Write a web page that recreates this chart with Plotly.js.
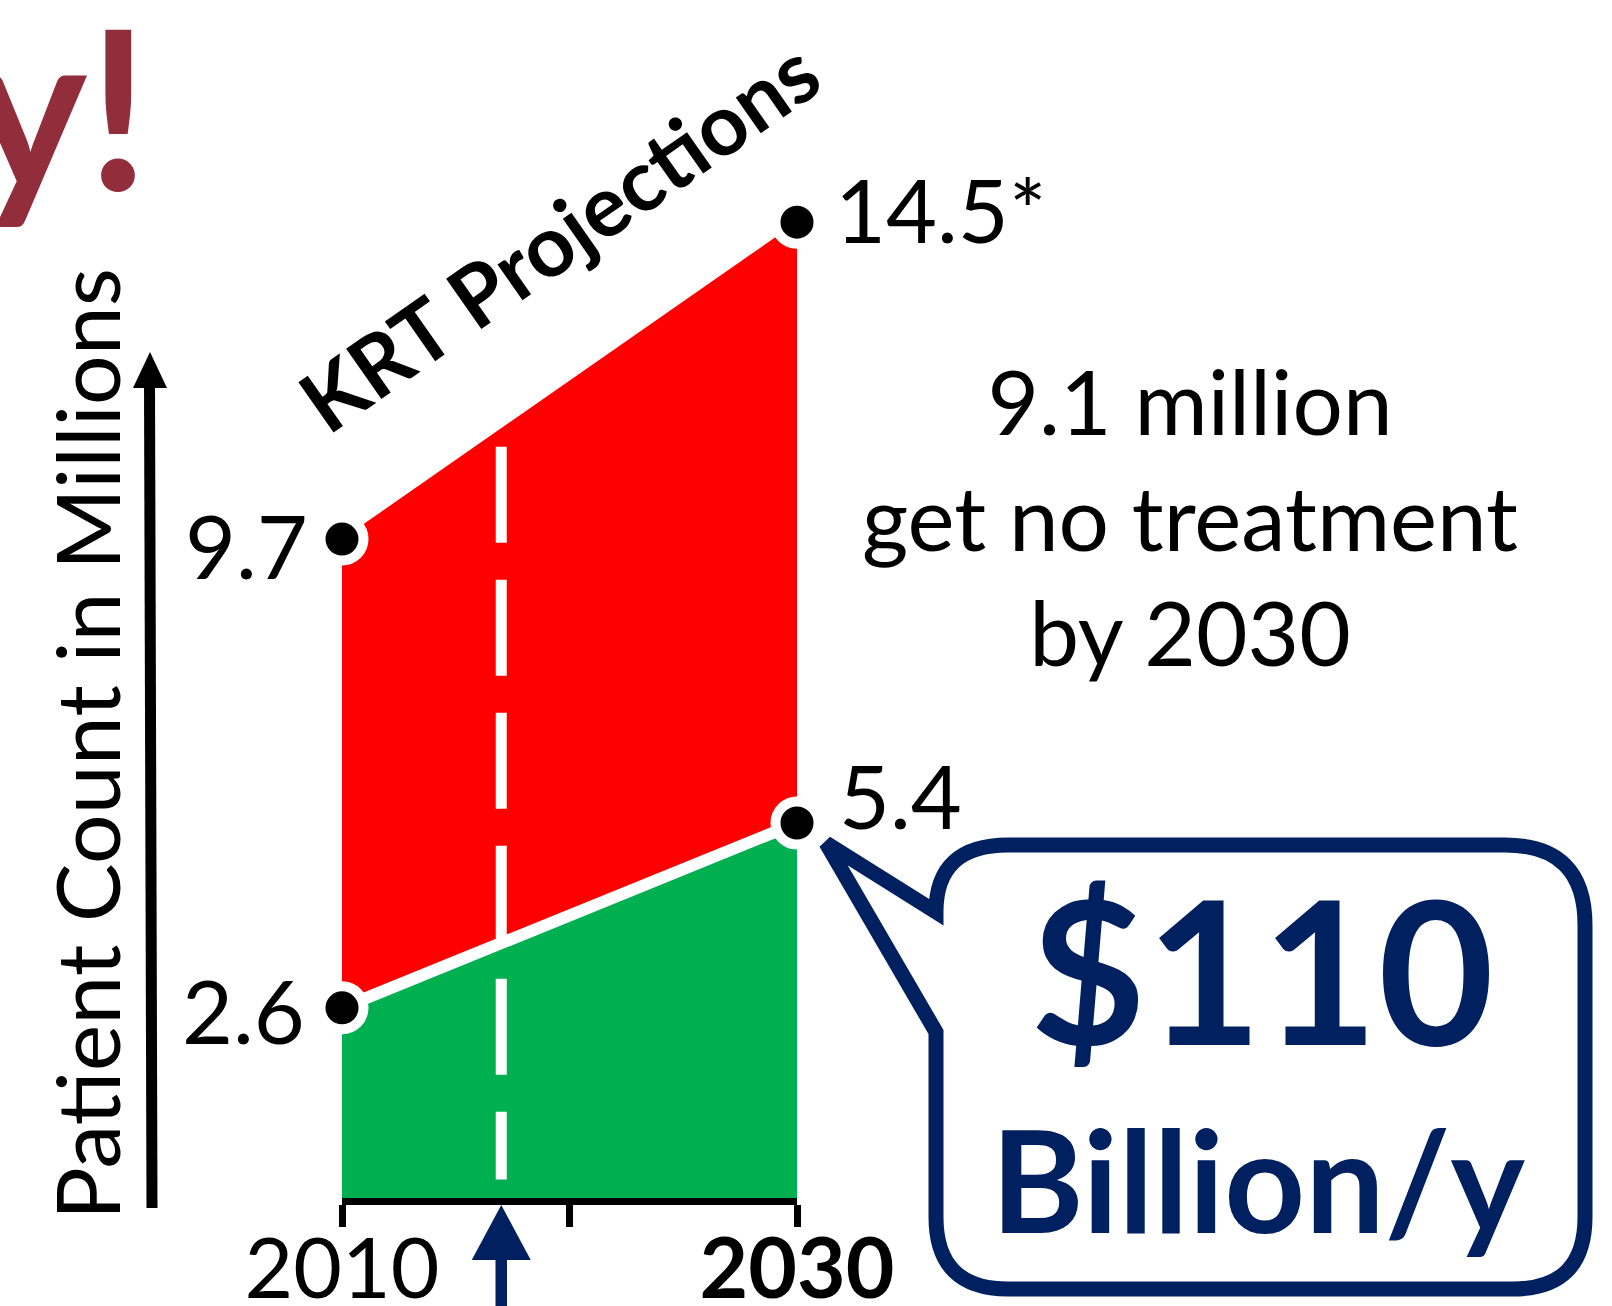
<!DOCTYPE html>
<html>
<head>
<meta charset="utf-8">
<script src="https://cdn.plot.ly/plotly-3.0.1.min.js"></script>
<style>
  html, body { margin: 0; padding: 0; background: #ffffff; }
  #chart { width: 1612px; height: 1306px; }
</style>
</head>
<body>
<div id="chart"></div>
<script>
// ---- data ----
const years = [2010, 2030];
const totalNeed = [9.7, 14.5];          // patients needing KRT (millions)
const treated = [2.6, 5.4];             // patients receiving KRT (millions)
const totalLabels = ['9.7', '14.5*'];
const treatedLabels = ['2.6', '5.4'];
const tickYears = [2010, 2020, 2030];
const tickLabels = ['2010', '', '<b>2030</b>'];
const markYear = 2017;                  // dashed marker year
const markSpan = [11.1, 0];             // dashed marker extent (millions)
const untreatedText = ['9.1 million', 'get no treatment', 'by 2030'];
const costText = ['$110', 'Billion/y'];

// ---- layout geometry ----
const FW = 1612, FH = 1306;
const L = 342, R = 797, T = 100, B = 1198;
const W = R - L, H = B - T;
const yRange = [-0.28, 16.35];
const px = x => (x - L) / W;
const py = y => (B - y) / H;
const P = (x, y) => px(x).toFixed(5) + ',' + py(y).toFixed(5);
const NAVY = '#002060';
const FONT = 'Lato, "Open Sans", sans-serif';
const yrPerPx = (years[1] - years[0]) / W;

const baseY = yRange[0];

const traces = [
  { // green: treated
    x: [years[0], years[1], years[1], years[0]],
    y: [treated[0], treated[1], baseY, baseY],
    fill: 'toself', fillcolor: '#00B050', mode: 'lines',
    line: { width: 0, color: '#00B050' }, hoverinfo: 'skip', showlegend: false
  },
  { // red: untreated
    x: [years[0], years[1], years[1], years[0]],
    y: [totalNeed[0], totalNeed[1], treated[1], treated[0]],
    fill: 'toself', fillcolor: '#FF0000', mode: 'lines',
    line: { width: 0, color: '#FF0000' }, hoverinfo: 'skip', showlegend: false
  },
  { // white separator
    x: years, y: treated, mode: 'lines',
    line: { width: 12, color: '#ffffff' }, hoverinfo: 'skip', showlegend: false
  },
  { // dashed marker
    x: [markYear, markYear], y: markSpan, mode: 'lines',
    line: { width: 11, color: '#ffffff', dash: '96px,37px' },
    hoverinfo: 'skip', showlegend: false
  },
  { // markers
    x: years.concat(years), y: totalNeed.concat(treated), mode: 'markers',
    marker: { size: 43, color: '#000000', line: { width: 10, color: '#ffffff' } },
    cliponaxis: false, hoverinfo: 'skip', showlegend: false
  }
];

const annotations = [];
const lblFont = { family: FONT, size: 88, color: '#000000' };
// value labels
annotations.push({ x: years[0], y: totalNeed[0], text: totalLabels[0], xref: 'x', yref: 'y',
  xanchor: 'right', yanchor: 'middle', xshift: -32, yshift: -6, showarrow: false, font: lblFont });
annotations.push({ x: years[1], y: totalNeed[1], text: totalLabels[1], xref: 'x', yref: 'y',
  xanchor: 'left', yanchor: 'middle', xshift: 36, yshift: 13, showarrow: false, font: lblFont });
annotations.push({ x: years[0], y: treated[0], text: treatedLabels[0], xref: 'x', yref: 'y',
  xanchor: 'right', yanchor: 'middle', xshift: -35, yshift: -2, showarrow: false, font: lblFont });
annotations.push({ x: years[1], y: treated[1], text: treatedLabels[1], xref: 'x', yref: 'y',
  xanchor: 'left', yanchor: 'middle', xshift: 40, yshift: 28, showarrow: false, font: lblFont });

// KRT Projections
annotations.push({ xref: 'paper', yref: 'paper', x: px(558), y: py(235), text: '<b>KRT Projections</b>',
  textangle: -35, showarrow: false, xanchor: 'center', yanchor: 'middle',
  font: { family: FONT, size: 85, color: '#000000' } });
// y title
annotations.push({ xref: 'paper', yref: 'paper', x: px(86), y: py(744), text: 'Patient Count in Millions',
  textangle: -90, showarrow: false, xanchor: 'center', yanchor: 'middle',
  font: { family: FONT, size: 88, color: '#000000' } });
// untreated text
annotations.push({ xref: 'paper', yref: 'paper', x: px(1190), y: py(516), text: untreatedText.join('<br>'),
  showarrow: false, xanchor: 'center', yanchor: 'middle', align: 'center',
  font: { family: FONT, size: 89, color: '#000000' } });
// cost
annotations.push({ xref: 'paper', yref: 'paper', x: px(1262), y: py(968), text: '<b>' + costText[0] + '</b>',
  showarrow: false, xanchor: 'center', yanchor: 'middle',
  font: { family: FONT, size: 200, color: NAVY } });
annotations.push({ xref: 'paper', yref: 'paper', x: px(1258), y: py(1178), text: '<b>' + costText[1] + '</b>',
  showarrow: false, xanchor: 'center', yanchor: 'middle',
  font: { family: FONT, size: 141, color: NAVY } });
// cut-off heading
annotations.push({ xref: 'paper', yref: 'paper', x: px(152), y: py(104), text: '<b>y!</b>',
  showarrow: false, xanchor: 'right', yanchor: 'middle',
  font: { family: FONT, size: 222, color: '#922D3C' } });

// bubble path (stroke centre line)
const bl = 936, bt = 845, br = 1585, bb = 1289, rr = 72;
const bubblePath = [
  'M', P(bl + rr, bt), 'L', P(br - rr - 8, bt), 'Q', P(br, bt), P(br, bt + rr + 8),
  'L', P(br, bb - rr), 'Q', P(br, bb), P(br - rr, bb),
  'L', P(bl + rr, bb), 'Q', P(bl, bb), P(bl, bb - rr),
  'L', P(bl, 1032), 'L', P(826, 843), 'L', P(bl, 912),
  'Q', P(bl, bt), P(bl + rr, bt), 'Z'
].join(' ');

const headHalf = 29.5 * yrPerPx;
const shapes = [
  { type: 'path', xref: 'paper', yref: 'paper', path: bubblePath,
    fillcolor: '#ffffff', line: { color: NAVY, width: 15 } },
  // y arrow
  { type: 'line', xref: 'paper', yref: 'paper', x0: px(152), y0: py(1208), x1: px(149.5), y1: py(384),
    line: { color: '#000000', width: 11 } },
  { type: 'path', xref: 'paper', yref: 'paper',
    path: 'M ' + P(150, 352) + ' L ' + P(133, 388) + ' L ' + P(167, 388) + ' Z',
    fillcolor: '#000000', line: { width: 0 } },
  // bottom marker arrow
  { type: 'line', xref: 'x', yref: 'paper', x0: markYear, x1: markYear, y0: py(1256), y1: py(1320),
    line: { color: NAVY, width: 11.5 } },
  { type: 'path', xref: 'x', yref: 'paper',
    path: 'M ' + markYear + ',' + py(1205) + ' L ' + (markYear - headHalf) + ',' + py(1260) +
          ' L ' + (markYear + headHalf) + ',' + py(1260) + ' Z',
    fillcolor: NAVY, line: { width: 0 } }
];

const layout = {
  width: FW, height: FH,
  margin: { l: L, r: FW - R, t: T, b: FH - B, pad: 0 },
  paper_bgcolor: '#ffffff', plot_bgcolor: '#ffffff',
  showlegend: false,
  xaxis: {
    range: [years[0], years[1]], tickvals: tickYears, ticktext: tickLabels,
    showgrid: false, zeroline: false, showline: true, linecolor: '#000000', linewidth: 7,
    ticks: 'outside', ticklen: 22, tickwidth: 7, tickcolor: '#000000',
    ticklabelstandoff: -30,
    tickfont: { family: FONT, size: 84, color: '#000000' }, fixedrange: true
  },
  yaxis: {
    range: yRange, showgrid: false, zeroline: false, showline: false,
    showticklabels: false, ticks: '', fixedrange: true
  },
  annotations: annotations,
  shapes: shapes
};

Plotly.newPlot('chart', traces, layout, { staticPlot: true, displayModeBar: false });
</script>
</body>
</html>
